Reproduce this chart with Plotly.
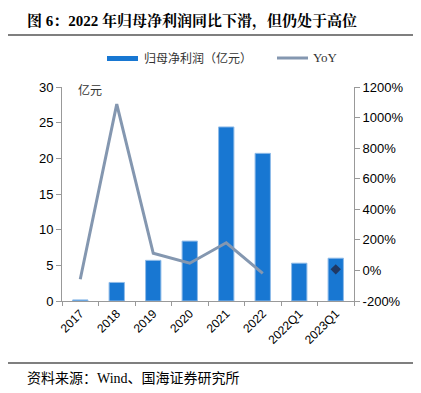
import plotly.graph_objects as go

categories = ["2017", "2018", "2019", "2020", "2021", "2022", "2022Q1", "2023Q1"]
profit = [0.15, 2.6, 5.7, 8.4, 24.4, 20.7, 5.3, 6.0]
yoy = [-58, 1088, 112, 47, 181, -19, None, None]
yoy_q = [None, None, None, None, None, None, None, 7]
left_ticks = [0, 5, 10, 15, 20, 25, 30]
right_ticks = [-200, 0, 200, 400, 600, 800, 1000, 1200]
right_labels = [f"{v}%" for v in right_ticks]

OFF = 8  # default page body margin
W, H = 421 - OFF, 393 - OFF
L, R, T, B = 62, 354, 87, 301  # in window pixels

def px(x):
    return (x - L) / (R - L)

def py(y):
    return (B - y) / (B - T)

BAR_COLOR = "#1877d2"
LINE_COLOR = "#8497b0"

fig = go.Figure()
fig.add_trace(go.Bar(
    x=categories, y=profit, name="归母净利润（亿元）",
    marker=dict(color=BAR_COLOR, line=dict(color="#8fbbe8", width=1)),
    width=0.42, yaxis="y",
))
fig.add_trace(go.Scatter(
    x=categories, y=yoy, name="YoY", mode="lines",
    line=dict(color=LINE_COLOR, width=3), yaxis="y2",
))
fig.add_trace(go.Scatter(
    x=categories, y=yoy_q, name="YoY", mode="markers",
    marker=dict(color="#203864", symbol="diamond", size=8), yaxis="y2",
))

axis_font = dict(family="Liberation Sans, Arial", size=13, color="#000")
fig.update_layout(
    width=W, height=H,
    margin=dict(l=L - OFF, r=421 - R, t=T - OFF, b=393 - B),
    paper_bgcolor="white", plot_bgcolor="white",
    font=dict(family="Liberation Sans, Noto Sans CJK SC", color="#000"),
    showlegend=False,
    xaxis=dict(
        type="category", showline=True, linecolor="#999", linewidth=1,
        ticks="outside", tickson="boundaries", ticklen=4, tickcolor="#999",
        tickangle=-45, tickfont=dict(family="Liberation Sans, Arial", size=12, color="#000"),
        showgrid=False, range=[-0.5, 7.5], automargin=False,
    ),
    yaxis=dict(
        range=[0, 30], tickvals=left_ticks, showline=True, linecolor="#999",
        ticks="outside", ticklen=5, tickcolor="#999", showgrid=False,
        tickfont=axis_font, zeroline=False, automargin=False,
    ),
    yaxis2=dict(
        range=[-200, 1200], tickvals=right_ticks, ticktext=right_labels, overlaying="y",
        side="right", showline=True, linecolor="#999", ticks="outside", ticklen=5,
        tickcolor="#999", showgrid=False, tickfont=axis_font, zeroline=False,
        automargin=False,
    ),
)

# custom legend
fig.add_shape(type="rect", xref="paper", yref="paper", x0=px(107), x1=px(138),
              y0=py(61), y1=py(56), line=dict(width=0), fillcolor=BAR_COLOR)
fig.add_annotation(
    x=px(142), y=py(58), xref="paper", yref="paper", xanchor="left", yanchor="middle",
    text="归母净利润（亿元）", showarrow=False,
    font=dict(family="Noto Sans CJK SC", size=12, color="#333"),
)
fig.add_shape(type="line", xref="paper", yref="paper", x0=px(277), x1=px(308),
              y0=py(58), y1=py(58), line=dict(color=LINE_COLOR, width=3))
fig.add_annotation(
    x=px(311), y=py(58), xref="paper", yref="paper", xanchor="left", yanchor="middle",
    text="YoY", showarrow=False,
    font=dict(family="Liberation Serif", size=13, color="#333"),
)

fig.add_annotation(
    x=px(25), y=py(22), xref="paper", yref="paper", xanchor="left", yanchor="middle",
    text="<b>图 6：2022 年归母净利润同比下滑，但仍处于高位</b>", showarrow=False,
    font=dict(family="Liberation Serif, Noto Serif CJK SC, Noto Sans CJK SC", size=15, color="#000"),
)
fig.add_annotation(
    x=px(76), y=py(89), xref="paper", yref="paper", xanchor="left", yanchor="middle",
    text="亿元", showarrow=False,
    font=dict(family="Noto Sans CJK SC", size=12, color="#333"),
)
fig.add_annotation(
    x=px(25), y=py(378), xref="paper", yref="paper", xanchor="left", yanchor="middle",
    text="资料来源：Wind、国海证券研究所", showarrow=False,
    font=dict(family="Liberation Serif, Noto Sans CJK SC", size=14, color="#000"),
)
fig.add_shape(type="line", xref="paper", yref="paper", x0=px(OFF), x1=px(417),
              y0=py(35), y1=py(35), line=dict(color="#555", width=1.5))
fig.add_shape(type="line", xref="paper", yref="paper", x0=px(OFF), x1=px(417),
              y0=py(363), y1=py(363), line=dict(color="#555", width=1.5))

fig.write_html("out.html")
